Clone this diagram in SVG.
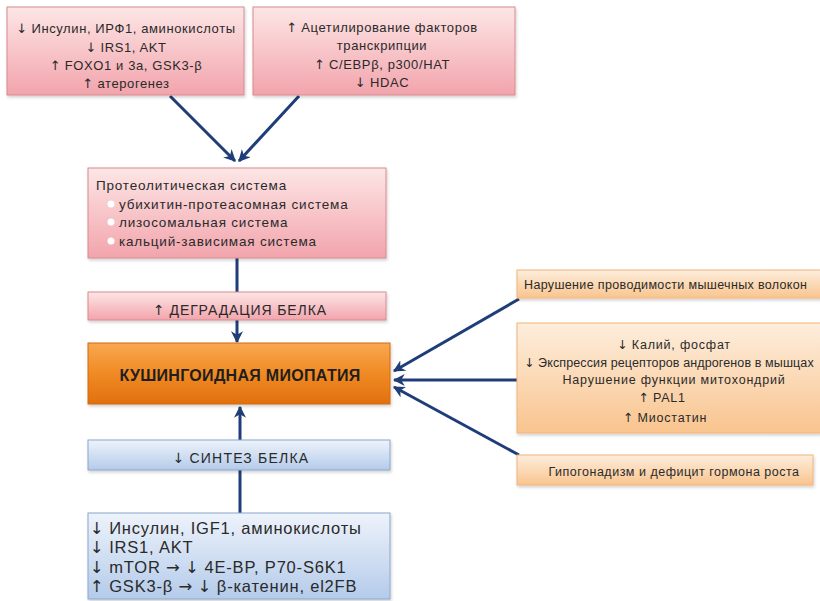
<svg xmlns="http://www.w3.org/2000/svg" width="820" height="601" viewBox="0 0 820 601">
<defs>
<linearGradient id="gPink" x1="0" y1="0" x2="0" y2="1"><stop offset="0" stop-color="#fde6e6"/><stop offset="1" stop-color="#f2a4ac"/></linearGradient>
<linearGradient id="gOrange" x1="0" y1="0" x2="0" y2="1"><stop offset="0" stop-color="#f9a850"/><stop offset="0.5" stop-color="#f08a24"/><stop offset="1" stop-color="#e2700e"/></linearGradient>
<linearGradient id="gPeach" x1="0" y1="0" x2="0" y2="1"><stop offset="0" stop-color="#fdeedd"/><stop offset="1" stop-color="#f9c48e"/></linearGradient>
<linearGradient id="gBlue" x1="0" y1="0" x2="0" y2="1"><stop offset="0" stop-color="#eef3fb"/><stop offset="1" stop-color="#b4cbea"/></linearGradient>
<filter id="sh" x="-5%" y="-10%" width="110%" height="130%"><feDropShadow dx="1" dy="2" stdDeviation="1.5" flood-color="#000" flood-opacity="0.18"/></filter>
<marker id="ah" viewBox="0 0 10 10" refX="9" refY="5" markerWidth="4" markerHeight="4" orient="auto" markerUnits="strokeWidth"><path d="M0,0 L10,5 L0,10 L3,5 Z" fill="#1f3d78"/></marker>
</defs>
<style>
text{font-family:"Liberation Sans","DejaVu Sans",sans-serif;fill:#2a2a2a}
.ar{font-family:"DejaVu Sans",sans-serif;letter-spacing:0}
.pink{fill:url(#gPink);stroke:#d88a8e;stroke-width:1}
.peach{fill:url(#gPeach);stroke:#f2b47a;stroke-width:1}
.blue{fill:url(#gBlue);stroke:#8aa6cc;stroke-width:1}
.org{fill:url(#gOrange);stroke:#d06a14;stroke-width:1}
.c{text-anchor:middle}
.t13{font-size:13px;letter-spacing:0.6px}
.tp{font-size:13.5px;letter-spacing:0.8px}
.t12{font-size:12.5px;letter-spacing:0.8px}
.t14{font-size:14px;letter-spacing:0.9px}
.t15{font-size:16.5px;letter-spacing:0.8px}
.conn line{stroke:#1f3d78;stroke-width:3}
</style>
<rect width="820" height="601" fill="#ffffff"/>

<g id="conn" class="conn">
<line x1="170" y1="96" x2="235" y2="161" marker-end="url(#ah)"/>
<line x1="299" y1="96" x2="239" y2="161" marker-end="url(#ah)"/>
<line x1="237" y1="258" x2="237" y2="292"/>
<line x1="237" y1="320" x2="237" y2="342" marker-end="url(#ah)"/>
<line x1="240" y1="440" x2="240" y2="407" marker-end="url(#ah)"/>
<line x1="240" y1="513" x2="240" y2="470"/>
<line x1="519" y1="299" x2="394" y2="371" marker-end="url(#ah)"/>
<line x1="519" y1="380" x2="394" y2="380" marker-end="url(#ah)"/>
<line x1="519" y1="455" x2="394" y2="387" marker-end="url(#ah)"/>
</g>

<g id="n1">
<rect class="pink" x="7" y="7" width="237" height="88" filter="url(#sh)"/>
<text class="c t13" x="126" y="33"><tspan class="ar">↓</tspan> Инсулин, ИРФ1, аминокислоты</text>
<text class="c t13" x="126" y="52"><tspan class="ar">↓</tspan> IRS1, AKT</text>
<text class="c t13" x="126" y="70"><tspan class="ar">↑</tspan> FOXO1 и 3a, GSK3-β</text>
<text class="c t13" x="126" y="88"><tspan class="ar">↑</tspan> атерогенез</text>
</g>

<g id="n2">
<rect class="pink" x="253" y="7" width="262" height="88" filter="url(#sh)"/>
<text class="c t13" x="382" y="32"><tspan class="ar">↑</tspan> Ацетилирование факторов</text>
<text class="c t13" x="382" y="50">транскрипции</text>
<text class="c t13" x="382" y="69"><tspan class="ar">↑</tspan> С/EBPβ, p300/HAT</text>
<text class="c t13" x="382" y="87"><tspan class="ar">↓</tspan> HDAC</text>
</g>

<g id="n3">
<rect class="pink" x="88" y="168" width="298" height="90" filter="url(#sh)"/>
<text class="tp" x="96" y="190">Протеолитическая система</text>
<circle cx="111" cy="204" r="3.5" fill="#ffffff"/>
<circle cx="111" cy="222" r="3.5" fill="#ffffff"/>
<circle cx="111" cy="241" r="3.5" fill="#ffffff"/>
<text class="tp" x="119" y="209">убихитин-протеасомная система</text>
<text class="tp" x="119" y="227">лизосомальная система</text>
<text class="tp" x="119" y="246">кальций-зависимая система</text>
</g>

<g id="n4">
<rect class="pink" x="88" y="292" width="298" height="28" filter="url(#sh)"/>
<text class="c t14" x="240" y="315"><tspan class="ar">↑</tspan>  ДЕГРАДАЦИЯ БЕЛКА</text>
</g>

<g id="n5">
<rect class="org" x="88" y="343" width="302" height="61" filter="url(#sh)"/>
<text class="c" x="240" y="381" style="font-size:16px;font-weight:bold;fill:#1e1e1e;letter-spacing:0.3px">КУШИНГОИДНАЯ МИОПАТИЯ</text>
</g>

<g id="n6">
<rect class="blue" x="88" y="440" width="302" height="30" filter="url(#sh)"/>
<text class="c t14" x="241" y="463" style="letter-spacing:1.2px"><tspan class="ar">↓</tspan>  СИНТЕЗ БЕЛКА</text>
</g>

<g id="n7">
<rect class="blue" x="88" y="513" width="302" height="86" filter="url(#sh)"/>
<text class="t15" x="90" y="534"><tspan class="ar">↓</tspan>  Инсулин, IGF1, аминокислоты</text>
<text class="t15" x="90" y="553"><tspan class="ar">↓</tspan>  IRS1, AKT</text>
<text class="t15" x="90" y="573"><tspan class="ar">↓</tspan>  mTOR <tspan class="ar">→</tspan> <tspan class="ar">↓</tspan>  4E-BP, P70-S6K1</text>
<text class="t15" x="90" y="592"><tspan class="ar">↑</tspan>  GSK3-β <tspan class="ar">→</tspan> <tspan class="ar">↓</tspan>  β-катенин, el2FB</text>
</g>

<g id="n8">
<rect class="peach" x="517" y="270" width="310" height="28" filter="url(#sh)"/>
<text class="t12" x="524" y="289" style="letter-spacing:0.35px">Нарушение проводимости мышечных волокон</text>
</g>

<g id="n9">
<rect class="peach" x="517" y="323" width="310" height="110" filter="url(#sh)"/>
<text class="c t12" x="674" y="349"><tspan class="ar">↓</tspan>  Калий, фосфат</text>
<text class="t12" x="524" y="367" style="letter-spacing:0.12px"><tspan class="ar">↓</tspan> Экспрессия рецепторов андрогенов в мышцах</text>
<text class="c t12" x="674" y="384">Нарушение функции митохондрий</text>
<text class="c t12" x="662" y="402"><tspan class="ar">↑</tspan>  PAL1</text>
<text class="c t12" x="665" y="422"><tspan class="ar">↑</tspan>  Миостатин</text>
</g>

<g id="n10">
<rect class="peach" x="517" y="455" width="296" height="30" filter="url(#sh)"/>
<text class="c t12" x="674" y="476" style="letter-spacing:0.5px">Гипогонадизм и дефицит гормона роста</text>
</g>
</svg>
